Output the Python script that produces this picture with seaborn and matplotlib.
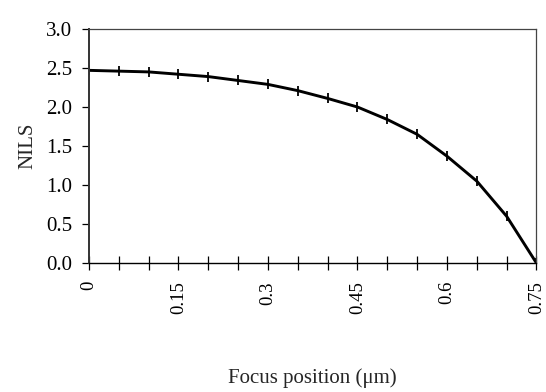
import matplotlib
matplotlib.use("Agg")
import matplotlib.pyplot as plt
import seaborn as sns
import pandas as pd
from matplotlib.ticker import FixedLocator, FixedFormatter

# Normalised image log-slope versus focus position
focus_um = [0.00, 0.05, 0.10, 0.15, 0.20, 0.25, 0.30, 0.35,
            0.40, 0.45, 0.50, 0.55, 0.60, 0.65, 0.70, 0.75]
nils = [2.47, 2.46, 2.45, 2.42, 2.39, 2.34, 2.29, 2.21,
        2.11, 2.00, 1.84, 1.65, 1.37, 1.05, 0.60, 0.00]

x_ticks = [0.00, 0.05, 0.10, 0.15, 0.20, 0.25, 0.30, 0.35,
           0.40, 0.45, 0.50, 0.55, 0.60, 0.65, 0.70, 0.75]
x_tick_labels = ["0", "", "", "0.15", "", "", "0.3", "",
                 "", "0.45", "", "", "0.6", "", "", "0.75"]
y_ticks = [0.0, 0.5, 1.0, 1.5, 2.0, 2.5, 3.0]
y_tick_labels = ["0.0", "0.5", "1.0", "1.5", "2.0", "2.5", "3.0"]

sns.set_style("ticks")
plt.rcParams["font.family"] = ["Liberation Serif", "DejaVu Serif"]

df = pd.DataFrame({"focus": focus_um, "nils": nils})

fig = plt.figure(figsize=(5.46, 3.92), dpi=100)
ax = fig.add_axes([0.163, 0.329, 0.8195, 0.597])

sns.lineplot(data=df, x="focus", y="nils", ax=ax, color="black",
             linewidth=2.1, marker="|", markersize=7,
             markeredgewidth=1.3, markeredgecolor="black")

ax.set_xlim(0, 0.75)
ax.set_ylim(0, 3.0)

ax.xaxis.set_major_locator(FixedLocator(x_ticks))
ax.xaxis.set_major_formatter(FixedFormatter(x_tick_labels))
ax.yaxis.set_major_locator(FixedLocator(y_ticks))
ax.yaxis.set_major_formatter(FixedFormatter(y_tick_labels))

ax.tick_params(axis="x", direction="inout", length=10, width=0.9,
               colors="black", labelsize=13.5, labelrotation=90, pad=8)
ax.tick_params(axis="y", direction="out", length=5, width=0.9,
               colors="black", labelsize=15, pad=7)

ax.spines["left"].set_color("#333333")
ax.spines["left"].set_linewidth(1.4)
ax.spines["bottom"].set_color("black")
ax.spines["bottom"].set_linewidth(1.0)
for side in ["top", "right"]:
    ax.spines[side].set_visible(True)
    ax.spines[side].set_color("#444444")
    ax.spines[side].set_linewidth(0.9)

ax.set_xlabel("Focus position (μm)", fontsize=15, va="center")
ax.set_ylabel("NILS", fontsize=15, va="center")
ax.xaxis.set_label_coords(0.5, -0.49)
ax.yaxis.set_label_coords(-0.137, 0.5)

fig.savefig("out.png", dpi=100, facecolor="white")
